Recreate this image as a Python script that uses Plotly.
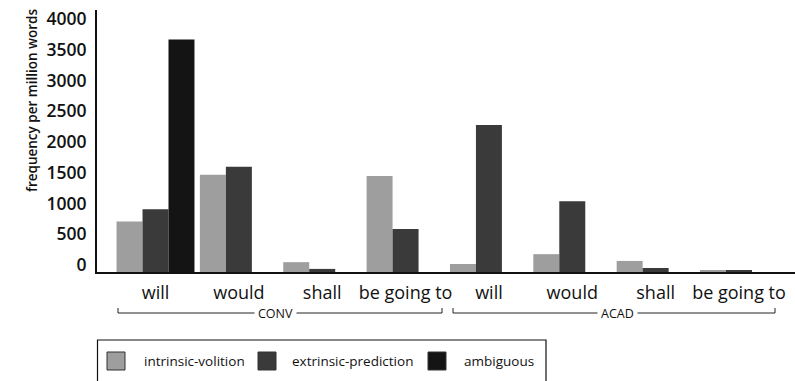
import plotly.graph_objects as go

# ---------------- data ----------------
modals = ["will", "would", "shall", "be going to", "will", "would", "shall", "be going to"]
registers = ["CONV", "ACAD"]
intrinsic_volition = [820, 1580, 160, 1560, 130, 290, 180, 30]
extrinsic_prediction = [1020, 1710, 50, 700, 2390, 1150, 65, 30]
ambiguous = [3780, 0, 0, 0, 0, 0, 0, 0]
y_ticks = [0, 500, 1000, 1500, 2000, 2500, 3000, 3500, 4000]

series_names = ["intrinsic-volition", "extrinsic-prediction", "ambiguous"]
series_values = [intrinsic_volition, extrinsic_prediction, ambiguous]
series_colors = ["#9e9e9e", "#3a3a3a", "#141414"]

W, H = 795, 381
L, T, B_PX = 97, 10, 272  # plot area pixel edges
FONT = "Open Sans"

x_idx = list(range(len(modals)))

fig = go.Figure()
for name, vals, col in zip(series_names, series_values, series_colors):
    fig.add_trace(go.Bar(
        x=x_idx, y=vals, name=name,
        marker=dict(color=col, line=dict(width=0)),
        showlegend=False,
    ))

def py(px):  # pixel y -> paper y
    return (B_PX - px) / (B_PX - T)

def pxp(px):  # pixel x -> paper x
    return (px - L) / (W - L)

shapes = []
annotations = []

# register brackets under the category labels
brackets = [("CONV", 118, 442, 275), ("ACAD", 453, 775, 617)]
for label, x0, x1, xc in brackets:
    yl, yt = py(313), py(308)
    shapes.append(dict(type="line", xref="paper", yref="paper", x0=pxp(x0), x1=pxp(x1), y0=yl, y1=yl,
                       line=dict(color="#222222", width=1)))
    for xe in (x0, x1):
        shapes.append(dict(type="line", xref="paper", yref="paper", x0=pxp(xe), x1=pxp(xe), y0=yl, y1=yt,
                           line=dict(color="#222222", width=1)))
    annotations.append(dict(text=label, xref="paper", yref="paper", x=pxp(xc), y=yl, showarrow=False,
                            xanchor="center", yanchor="middle", bgcolor="white", borderpad=3,
                            font=dict(family=FONT, size=12.5, color="#111111")))

# custom legend box
shapes.append(dict(type="rect", xref="paper", yref="paper", x0=pxp(97.5), x1=pxp(546), y0=py(340), y1=py(420),
                   line=dict(color="#111111", width=1.2), fillcolor="rgba(0,0,0,0)"))
legend_items = [(107, 142), (258, 290), (428, 462)]
for (sx, tx), name, col in zip(legend_items, series_names, series_colors):
    shapes.append(dict(type="rect", xref="paper", yref="paper", x0=pxp(sx), x1=pxp(sx + 18),
                       y0=py(352), y1=py(370), fillcolor=col, line=dict(color="#333333", width=1)))
    annotations.append(dict(text=name, xref="paper", yref="paper", x=pxp(tx), y=py(361), showarrow=False,
                            xanchor="left", yanchor="middle",
                            font=dict(family=FONT, size=13.5, color="#111111")))

# y-axis title
annotations.append(dict(text="frequency per million words", xref="paper", yref="paper",
                        x=pxp(32), y=py(100), textangle=-90, showarrow=False,
                        xanchor="center", yanchor="middle",
                        font=dict(family=FONT, size=13.5, color="#111111", weight=600)))

fig.update_layout(
    width=W, height=H,
    margin=dict(l=L, r=0, t=T, b=H - B_PX, pad=0),
    paper_bgcolor="white", plot_bgcolor="white",
    barmode="group", bargap=0.065, bargroupgap=0,
    shapes=shapes, annotations=annotations,
    font=dict(family=FONT, color="#111111"),
)
fig.update_xaxes(
    range=[-0.702, 7.672], tickvals=x_idx, ticktext=modals,
    showline=True, linecolor="#111111", linewidth=2, showgrid=False, zeroline=False,
    ticks="", ticklabelstandoff=3,
    tickfont=dict(family=FONT, size=18, color="#111111"),
)
fig.update_yaxes(
    range=[0, 4260], tickvals=y_ticks, ticktext=[str(v) for v in y_ticks],
    showline=True, linecolor="#111111", linewidth=2, showgrid=False, zeroline=False,
    ticks="", ticklabelshift=-7, ticklabelstandoff=5,
    tickfont=dict(family=FONT, size=17.5, color="#111111", weight=600),
)

fig.write_html("out.html", config={"displayModeBar": False},
               post_script="document.body.style.margin='0';")
